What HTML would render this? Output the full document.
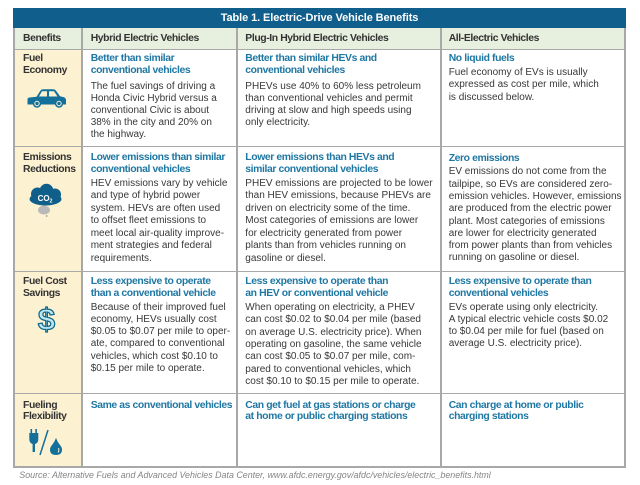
<!DOCTYPE html>
<html><head><meta charset="utf-8">
<style>
html,body{margin:0;padding:0;background:#fff;}
#w{position:relative;width:640px;height:485px;overflow:hidden;background:#fff;font-family:"Liberation Sans",sans-serif;}
.a{position:absolute;}
.t{position:absolute;white-space:nowrap;font-size:10px;font-family:"Liberation Sans",sans-serif;}
.h{font-weight:bold;color:#1f77a3;letter-spacing:-0.4px;font-size:10.4px;}
.b{color:#383838;}
.l{font-weight:bold;color:#333;letter-spacing:-0.4px;font-size:10.4px;}
.vl{position:absolute;width:1.5px;background:#a8a8a8;top:28px;height:439.75px;}
.hl{position:absolute;height:1.5px;background:#a8a8a8;left:13.25px;width:612.5px;}
</style></head><body>
<div id="w">
<!-- backgrounds -->
<div class="a" style="left:13.25px;top:7.5px;width:612.5px;height:20.8px;background:#0f5e8b;"></div>
<div class="a" style="left:14px;top:28.3px;width:611px;height:20.9px;background:#e7efde;"></div>
<div class="a" style="left:14px;top:49px;width:68px;height:418px;background:#fcf1d1;"></div>
<!-- lines -->
<div class="vl" style="left:13.25px;"></div>
<div class="vl" style="left:81.25px;"></div>
<div class="vl" style="left:236.25px;"></div>
<div class="vl" style="left:440.25px;"></div>
<div class="vl" style="left:624.25px;"></div>
<div class="hl" style="top:48.5px;"></div>
<div class="hl" style="top:145.5px;"></div>
<div class="hl" style="top:270.5px;"></div>
<div class="hl" style="top:392.5px;"></div>
<div class="hl" style="top:466.25px;"></div>

<!-- title -->
<div class="t" style="left:14px;width:611px;text-align:center;top:10.7px;line-height:14px;font-size:11px;font-weight:bold;color:#fff;letter-spacing:-0.1px;">Table 1. Electric-Drive Vehicle Benefits</div>

<!-- header -->
<div class="t l" style="left:23px;top:32.7px;line-height:12px;">Benefits</div>
<div class="t l" style="left:90.7px;top:32.7px;line-height:12px;">Hybrid Electric Vehicles</div>
<div class="t l" style="left:245.3px;top:32.7px;line-height:12px;">Plug-In Hybrid Electric Vehicles</div>
<div class="t l" style="left:448.7px;top:32.7px;line-height:12px;">All-Electric Vehicles</div>

<!-- row 1 -->
<div class="t l" style="left:23px;top:53.2px;line-height:12px;">Fuel<br>Economy</div>
<div class="t h" style="left:90.7px;top:53.2px;line-height:12px;">Better than similar<br>conventional vehicles</div>
<div class="t b" style="left:90.7px;top:81px;line-height:12px;">The fuel savings of driving a<br>Honda Civic Hybrid versus a<br>conventional Civic is about<br>38% in the city and 20% on<br>the highway.</div>
<div class="t h" style="left:245.3px;top:53.2px;line-height:12px;">Better than similar HEVs and<br>conventional vehicles</div>
<div class="t b" style="left:245.3px;top:81px;line-height:12px;">PHEVs use 40% to 60% less petroleum<br>than conventional vehicles and permit<br>driving at slow and high speeds using<br>only electricity.</div>
<div class="t h" style="left:448.7px;top:53.2px;line-height:12px;">No liquid fuels</div>
<div class="t b" style="left:448.7px;top:66.7px;line-height:12.6px;">Fuel economy of EVs is usually<br>expressed as cost per mile, which<br>is discussed below.</div>

<!-- row 2 -->
<div class="t l" style="left:23px;top:152.2px;line-height:11.7px;">Emissions<br>Reductions</div>
<div class="t h" style="left:90.7px;top:152.2px;line-height:11.7px;">Lower emissions than similar<br>conventional vehicles</div>
<div class="t b" style="left:90.7px;top:177.8px;line-height:12.45px;">HEV emissions vary by vehicle<br>and type of hybrid power<br>system. HEVs are often used<br>to offset fleet emissions to<br>meet local air-quality improve-<br>ment strategies and federal<br>requirements.</div>
<div class="t h" style="left:245.3px;top:152.2px;line-height:11.7px;">Lower emissions than HEVs and<br>similar conventional vehicles</div>
<div class="t b" style="left:245.3px;top:177.8px;line-height:12.45px;">PHEV emissions are projected to be lower<br>than HEV emissions, because PHEVs are<br>driven on electricity some of the time.<br>Most categories of emissions are lower<br>for electricity generated from power<br>plants than from vehicles running on<br>gasoline or diesel.</div>
<div class="t h" style="left:448.7px;top:152.6px;line-height:11.7px;">Zero emissions</div>
<div class="t b" style="left:448.7px;top:166.2px;line-height:12.33px;">EV emissions do not come from the<br>tailpipe, so EVs are considered zero-<br>emission vehicles. However, emissions<br>are produced from the electric power<br>plant. Most categories of emissions<br>are lower for electricity generated<br>from power plants than from vehicles<br>running on gasoline or diesel.</div>

<!-- row 3 -->
<div class="t l" style="left:23px;top:276.3px;line-height:11.4px;">Fuel Cost<br>Savings</div>
<div class="t h" style="left:90.7px;top:276.3px;line-height:11.4px;">Less expensive to operate<br>than a conventional vehicle</div>
<div class="t b" style="left:90.7px;top:301.9px;line-height:12.15px;">Because of their improved fuel<br>economy, HEVs usually cost<br>$0.05 to $0.07 per mile to oper-<br>ate, compared to conventional<br>vehicles, which cost $0.10 to<br>$0.15 per mile to operate.</div>
<div class="t h" style="left:245.3px;top:276.3px;line-height:11.4px;">Less expensive to operate than<br>an HEV or conventional vehicle</div>
<div class="t b" style="left:245.3px;top:301.8px;line-height:12.4px;">When operating on electricity, a PHEV<br>can cost $0.02 to $0.04 per mile (based<br>on average U.S. electricity price). When<br>operating on gasoline, the same vehicle<br>can cost $0.05 to $0.07 per mile, com-<br>pared to conventional vehicles, which<br>cost $0.10 to $0.15 per mile to operate.</div>
<div class="t h" style="left:448.7px;top:276.3px;line-height:11.4px;">Less expensive to operate than<br>conventional vehicles</div>
<div class="t b" style="left:448.7px;top:302px;line-height:12px;">EVs operate using only electricity.<br>A typical electric vehicle costs $0.02<br>to $0.04 per mile for fuel (based on<br>average U.S. electricity price).</div>

<!-- row 4 -->
<div class="t l" style="left:23px;top:399.9px;line-height:11px;">Fueling<br>Flexibility</div>
<div class="t h" style="left:90.7px;top:399.9px;line-height:11px;">Same as conventional vehicles</div>
<div class="t h" style="left:245.3px;top:399.9px;line-height:11px;">Can get fuel at gas stations or charge<br>at home or public charging stations</div>
<div class="t h" style="left:448.7px;top:399.9px;line-height:11px;">Can charge at home or public<br>charging stations</div>

<!-- source -->
<div class="t" style="left:19.3px;top:470.3px;line-height:11px;font-size:8.9px;font-style:italic;color:#858585;">Source: Alternative Fuels and Advanced Vehicles Data Center, www.afdc.energy.gov/afdc/vehicles/electric_benefits.html</div>

<!-- icons -->
<svg class="a" style="left:0;top:0;" width="640" height="485" viewBox="0 0 640 485">
  <!-- car -->
  <g fill="#12709b">
    <path d="M29.5 97.5 L36.5 96.8 L40.5 90.5 Q41.5 89.3 43.5 89.3 L53 89.3 Q55 89.3 56 90.8 L60 96.3 L64 97.2 Q66 98 66 100.5 L66 104.5 L27.5 104.5 L27.5 99.5 Q27.5 97.7 29.5 97.5Z"/>
    <circle cx="37" cy="103.5" r="4.2"/>
    <circle cx="59" cy="103.5" r="4.2"/>
  </g>
  <path d="M39 96.5 L42 91.3 L47 91.3 L47 96.5Z" fill="#fcf1d1"/>
  <path d="M49 91.3 L54 91.3 L57.5 96.5 L49 96.5Z" fill="#fcf1d1"/>
  <circle cx="37" cy="103.5" r="2.2" fill="none" stroke="#fcf1d1" stroke-width="1"/>
  <circle cx="59" cy="103.5" r="2.2" fill="none" stroke="#fcf1d1" stroke-width="1"/>

  <!-- CO2 cloud -->
  <ellipse cx="44" cy="210" rx="6" ry="4.5" fill="#b9b9b9"/>
  <circle cx="46.7" cy="216" r="0.9" fill="#9a9a9a"/>
  <g fill="#0f5f8a">
    <ellipse cx="45.5" cy="199" rx="16" ry="6.5"/>
    <circle cx="37.5" cy="194" r="6.5"/>
    <circle cx="46.5" cy="190.5" r="6.8"/>
    <circle cx="55" cy="194.5" r="6"/>
  </g>
  <text x="45" y="201" text-anchor="middle" font-family="Liberation Sans, sans-serif" font-size="8" font-weight="bold" fill="#fff">CO<tspan font-size="5" dy="1.5">2</tspan></text>

  <!-- dollar -->
  <text x="46.5" y="329.5" text-anchor="middle" font-family="Liberation Sans, sans-serif" font-size="31" font-weight="bold" fill="#bfe6f1" stroke="#116b8c" stroke-width="1.3">$</text>

  <!-- plug / drop -->
  <g fill="#12709b">
    <rect x="30.5" y="429" width="1.6" height="4.5"/>
    <rect x="35.3" y="429" width="1.6" height="4.5"/>
    <path d="M29.3 433 L38.3 433 L38.3 439 Q38.3 443 35 444 L35 452 L32.6 452 L32.6 444 Q29.3 443 29.3 439Z"/>
    <path d="M56 438 Q57.5 442 60 445 Q62 447.5 62 449.5 Q62 455 56 455 Q50 455 50 449.5 Q50 447.5 52 445 Q54.5 442 56 438Z"/>
  </g>
  <line x1="48" y1="430" x2="40" y2="455" stroke="#12709b" stroke-width="1.5"/>
  <path d="M58.5 448 Q59.5 450.5 58 452.5" stroke="#fcf1d1" stroke-width="1" fill="none"/>
</svg>
</div>
</body></html>
